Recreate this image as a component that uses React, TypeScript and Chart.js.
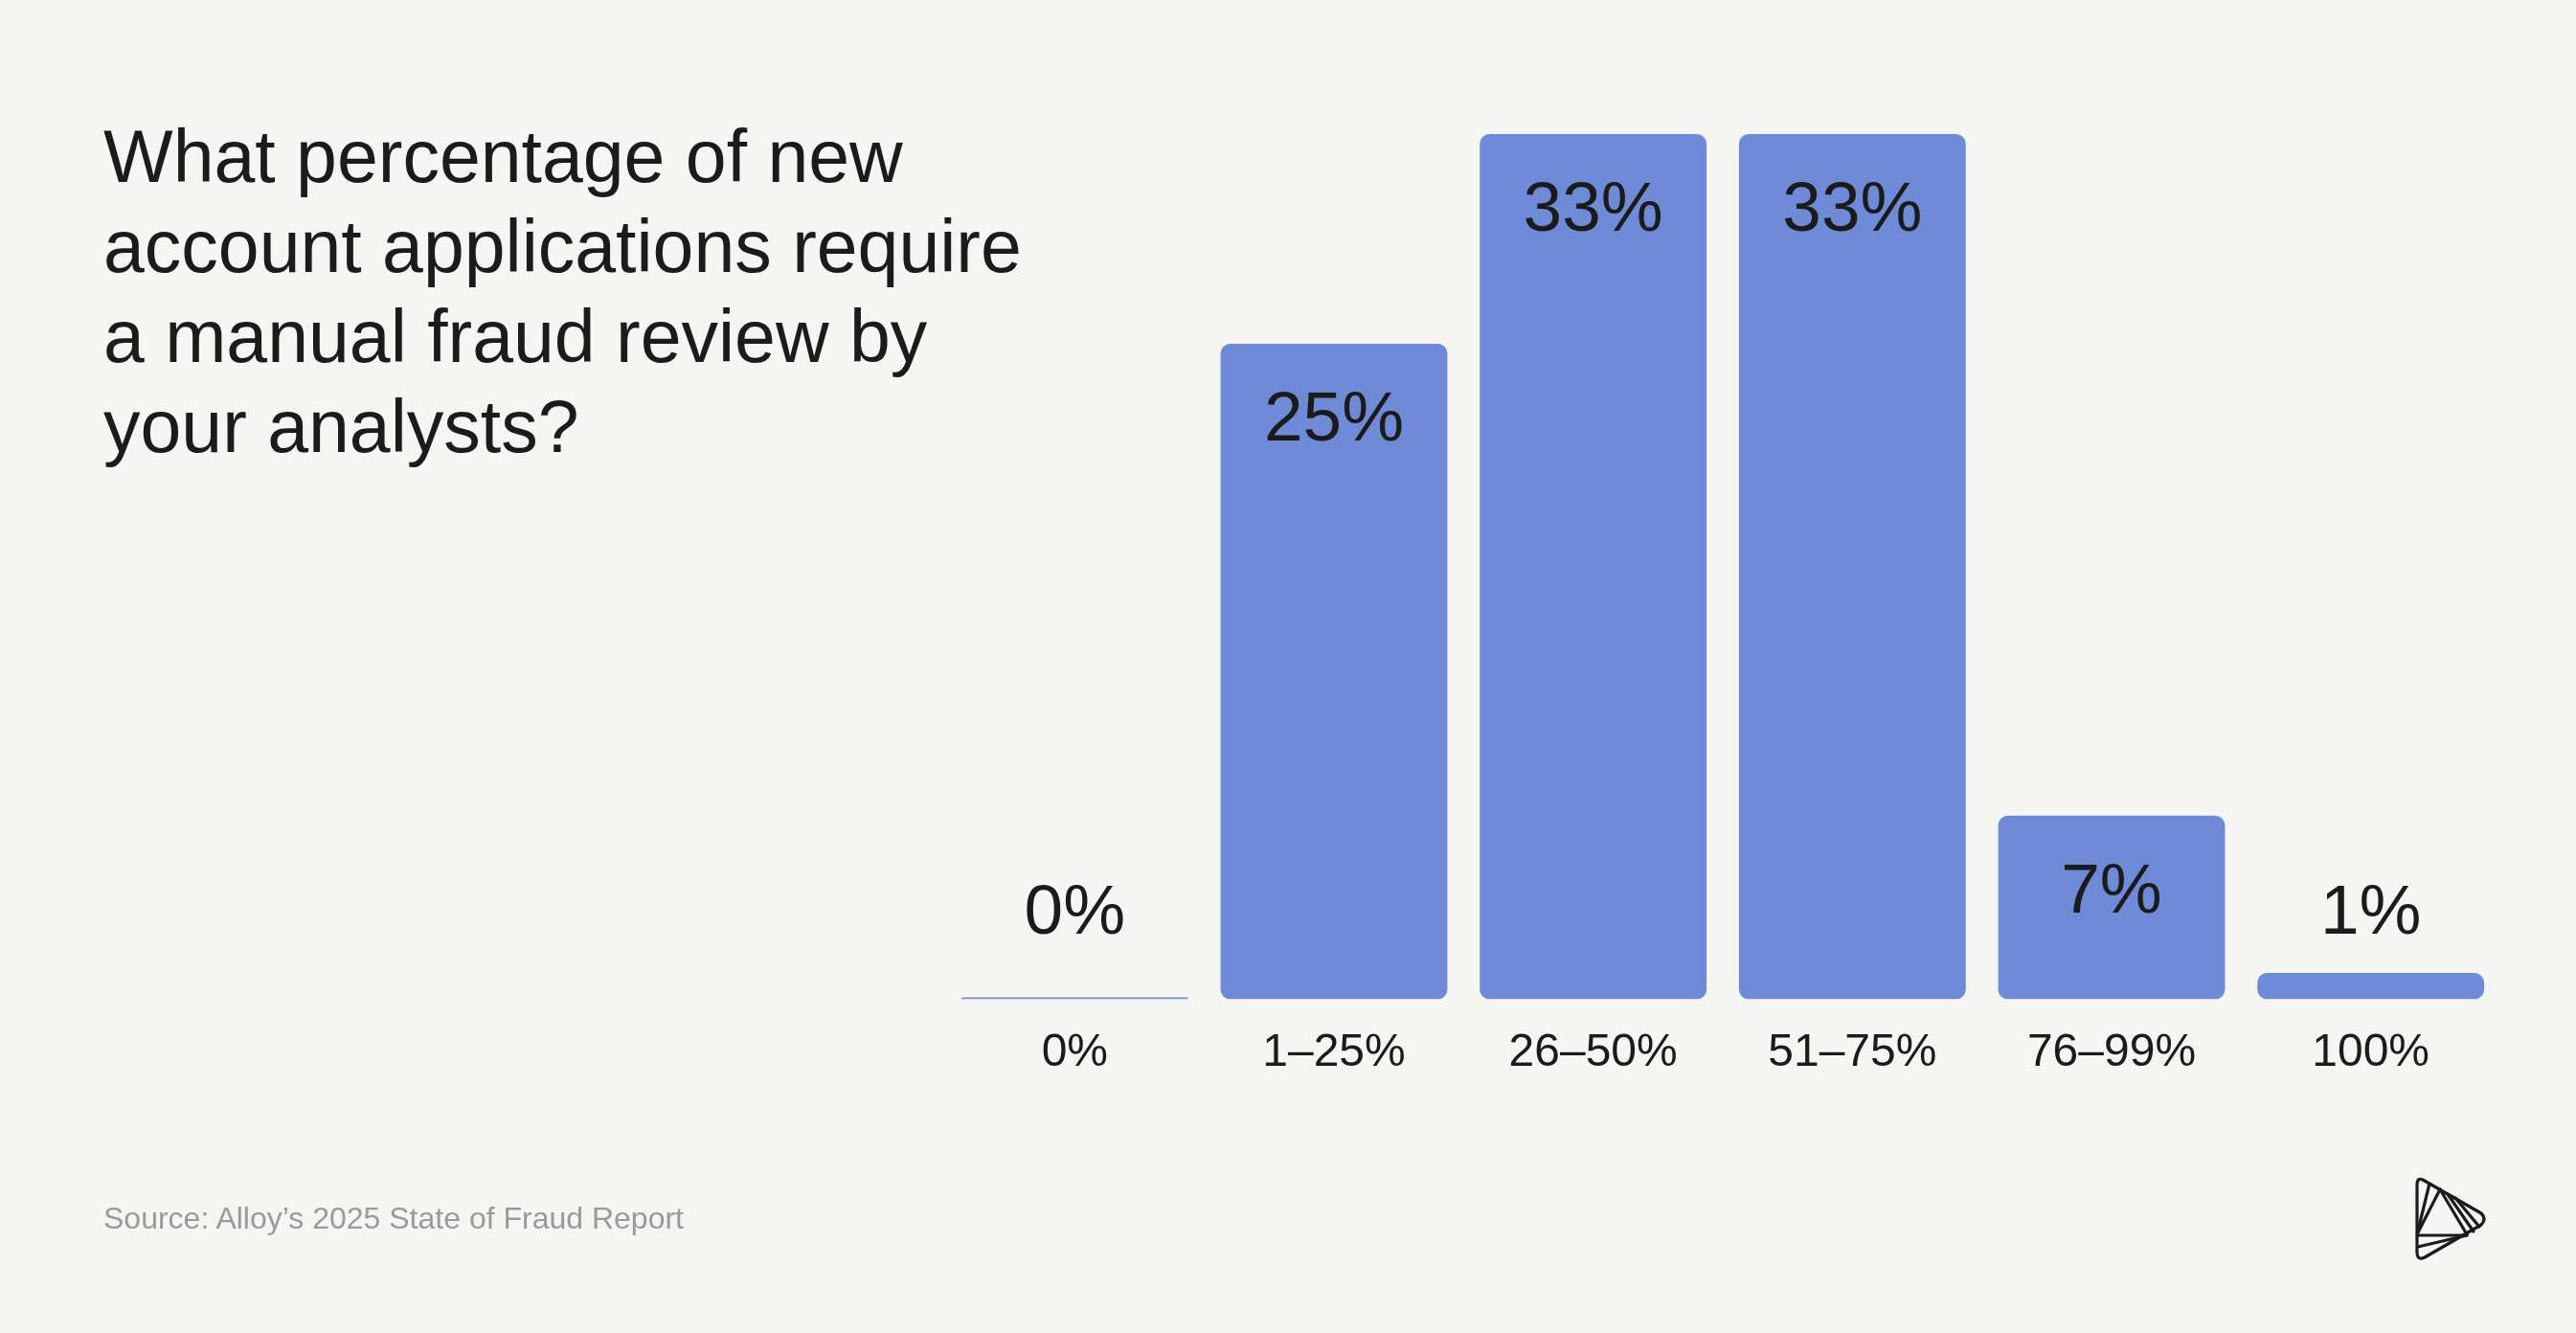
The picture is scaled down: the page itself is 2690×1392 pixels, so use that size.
import React, { useEffect, useRef } from "react";
import { Chart, registerables } from "chart.js";

Chart.register(...registerables);

const categories = ["0%", "1–25%", "26–50%", "51–75%", "76–99%", "100%"];
const values = [0, 25, 33, 33, 7, 1];
const titleLines = [
  "What percentage of new",
  "account applications require",
  "a manual fraud review by",
  "your analysts?",
];
const sourceText = "Source: Alloy’s 2025 State of Fraud Report";

const BG = "#F5F5F3";
const BAR = "#6F8BD8";
const INK = "#1b1b1b";
const FONT = '"Liberation Sans", Arial, sans-serif';

const valueLabelPlugin = {
  id: "valueLabels",
  afterDatasetsDraw(chart: any) {
    const { ctx } = chart;
    const meta = chart.getDatasetMeta(0);
    ctx.save();
    ctx.font = `73px ${FONT}`;
    ctx.fillStyle = INK;
    ctx.textAlign = "center";
    ctx.textBaseline = "alphabetic";
    meta.data.forEach((bar: any, i: number) => {
      const { x, y, base } = bar.getProps(["x", "y", "base"], true);
      const h = base - y;
      const by = h > 150 ? y + 101 : base - 68;
      ctx.fillText(`${values[i]}%`, x, by);
    });
    ctx.restore();
  },
};

function BarChart() {
  const ref = useRef<HTMLCanvasElement | null>(null);
  useEffect(() => {
    if (!ref.current) return;
    const chart = new Chart(ref.current, {
      type: "bar",
      data: {
        labels: categories,
        datasets: [
          {
            data: values,
            backgroundColor: BAR,
            borderRadius: 10,
            borderSkipped: false,
            barPercentage: 1,
            categoryPercentage: 0.875,
            minBarLength: 2,
          },
        ],
      },
      options: {
        animation: false,
        responsive: false,
        devicePixelRatio: 1,
        layout: { padding: { left: 987, right: 79, top: 140, bottom: 235 } },
        plugins: {
          legend: { display: false },
          tooltip: { enabled: false },
          title: { display: false },
        },
        scales: {
          x: {
            grid: { display: false, drawTicks: false },
            border: { display: false },
            ticks: {
              color: INK,
              padding: 28,
              font: { family: FONT, size: 48 },
              maxRotation: 0,
              autoSkip: false,
            },
          },
          y: { display: false, min: 0, max: 33 },
        },
      },
      plugins: [valueLabelPlugin],
    });
    return () => chart.destroy();
  }, []);
  return (
    <canvas
      ref={ref}
      width={2690}
      height={1392}
      style={{ position: "absolute", left: 0, top: 0, width: 2690, height: 1392 }}
    />
  );
}

function Logo() {
  return (
    <svg
      width={150}
      height={150}
      viewBox="0 0 150 150"
      style={{ position: "absolute", left: 2480, top: 1200 }}
    >
      <g fill="none" stroke={INK} strokeWidth={3.2} strokeLinejoin="round" strokeLinecap="round">
        <path d="M50 32 L111 67 Q117 73 111 79 L52 113 Q44 117 44 107 L44 38 Q44 29 50 32 Z" />
        <path d="M57 36 L45 85" />
        <path d="M68 42 L45 87" />
        <path d="M68 42 L96 89" />
        <path d="M76 47 L103 86" />
        <path d="M84 51 L109 81" />
        <path d="M44 90 L96 90" />
        <path d="M45 102 L96 90" />
      </g>
    </svg>
  );
}

export default function App() {
  return (
    <div
      style={{
        position: "fixed",
        left: 0,
        top: 0,
        width: 2690,
        height: 1392,
        background: BG,
        overflow: "hidden",
      }}
    >
      <div
        style={{
          position: "absolute",
          left: 108,
          top: 116,
          fontFamily: FONT,
          fontSize: 77,
          lineHeight: "94px",
          color: INK,
          whiteSpace: "nowrap",
        }}
      >
        {titleLines.map((l, i) => (
          <div key={i}>{l}</div>
        ))}
      </div>
      <BarChart />
      <div
        style={{
          position: "absolute",
          left: 108,
          top: 1256,
          fontFamily: FONT,
          fontSize: 32,
          lineHeight: "33px",
          color: "#9a9a9a",
          whiteSpace: "nowrap",
        }}
      >
        {sourceText}
      </div>
      <Logo />
    </div>
  );
}
